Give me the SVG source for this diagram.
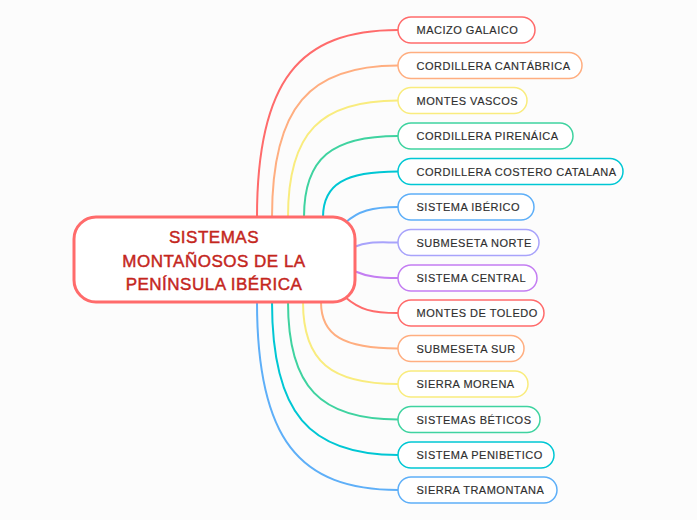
<svg xmlns="http://www.w3.org/2000/svg" width="697" height="520" viewBox="0 0 697 520">
<style>
.bg{fill:#fcfcfc}
.c{fill:none;stroke-width:2;stroke-linecap:round}
.n rect{fill:#ffffff;stroke-width:1.5}
.n text{font-family:"Liberation Sans",Arial,sans-serif;font-size:11px;letter-spacing:0.5px;fill:#2e2e2e;stroke:#2e2e2e;stroke-width:0.15px}
.root rect{fill:#ffffff;stroke:#ff6b6b;stroke-width:3}
.root text{font-family:"Liberation Sans",Arial,sans-serif;font-size:17px;fill:#c4261d;stroke:#c4261d;stroke-width:0.45px;text-anchor:middle;letter-spacing:0.5px}
.red{stroke:#ff6b6b}.ora{stroke:#ffae80}.yel{stroke:#f9ec7e}.grn{stroke:#3fd3a0}.tea{stroke:#00c7d4}.blu{stroke:#5eaff8}.lav{stroke:#a8a3fb}.pur{stroke:#c47ef2}
</style>
<rect class="bg" x="0" y="0" width="697" height="520"/>
<g id="connectors">
<path class="c red" d="M257,217 C257,80.5 299.3,30 398,30"/>
<path class="c ora" d="M272,217 C272,106.4 309.8,65.5 398,65.5"/>
<path class="c yel" d="M288,217 C288,132 321,100.5 398,100.5"/>
<path class="c grn" d="M304,217 C304,157.9 332.2,136 398,136"/>
<path class="c tea" d="M323,217 C323,183.8 345.5,171.5 398,171.5"/>
<path class="c blu" d="M345,223 C358,211 372,207 398,207"/>
<path class="c lav" d="M354,247 C368,241 380,242.5 398,242.5"/>
<path class="c pur" d="M354,271 C368,277 380,278 398,278"/>
<path class="c red" d="M345,297 C360,310 372,313 398,313"/>
<path class="c ora" d="M321,302 C321,335.9 344.1,348.5 398,348.5"/>
<path class="c yel" d="M303,302 C303,361.9 331.5,384 398,384"/>
<path class="c grn" d="M288,302 C288,387.8 321,419.5 398,419.5"/>
<path class="c tea" d="M272,302 C272,413.7 309.8,455 398,455"/>
<path class="c blu" d="M257,302 C257,439.2 299.3,490 398,490"/>
</g>
<g id="root" class="root">
<rect x="74" y="217" width="281" height="85" rx="22"/>
<text x="214" y="243">SISTEMAS</text>
<text x="214" y="266.5">MONTAÑOSOS DE LA</text>
<text x="214" y="290">PENÍNSULA IBÉRICA</text>
</g>
<g id="n1" class="n"><rect class="red" x="398" y="17" width="137" height="26" rx="13"/><text x="416.5" y="34">MACIZO GALAICO</text></g>
<g id="n2" class="n"><rect class="ora" x="398" y="52.5" width="184" height="26" rx="13"/><text x="416.5" y="69.5">CORDILLERA CANTÁBRICA</text></g>
<g id="n3" class="n"><rect class="yel" x="398" y="87.5" width="129" height="26" rx="13"/><text x="416.5" y="104.5">MONTES VASCOS</text></g>
<g id="n4" class="n"><rect class="grn" x="398" y="123" width="175" height="26" rx="13"/><text x="416.5" y="140">CORDILLERA PIRENÁICA</text></g>
<g id="n5" class="n"><rect class="tea" x="398" y="158.5" width="225" height="26" rx="13"/><text x="416.5" y="175.5">CORDILLERA COSTERO CATALANA</text></g>
<g id="n6" class="n"><rect class="blu" x="398" y="194" width="136" height="26" rx="13"/><text x="416.5" y="211">SISTEMA IBÉRICO</text></g>
<g id="n7" class="n"><rect class="lav" x="398" y="229.5" width="141" height="26" rx="13"/><text x="416.5" y="246.5">SUBMESETA NORTE</text></g>
<g id="n8" class="n"><rect class="pur" x="398" y="265" width="139" height="26" rx="13"/><text x="416.5" y="282">SISTEMA CENTRAL</text></g>
<g id="n9" class="n"><rect class="red" x="398" y="300" width="146" height="26" rx="13"/><text x="416.5" y="317">MONTES DE TOLEDO</text></g>
<g id="n10" class="n"><rect class="ora" x="398" y="335.5" width="126" height="26" rx="13"/><text x="416.5" y="352.5">SUBMESETA SUR</text></g>
<g id="n11" class="n"><rect class="yel" x="398" y="371" width="130" height="26" rx="13"/><text x="416.5" y="388">SIERRA MORENA</text></g>
<g id="n12" class="n"><rect class="grn" x="398" y="406.5" width="142" height="26" rx="13"/><text x="416.5" y="423.5">SISTEMAS BÉTICOS</text></g>
<g id="n13" class="n"><rect class="tea" x="398" y="442" width="156" height="26" rx="13"/><text x="416.5" y="459">SISTEMA PENIBETICO</text></g>
<g id="n14" class="n"><rect class="blu" x="398" y="477" width="159" height="26" rx="13"/><text x="416.5" y="494">SIERRA TRAMONTANA</text></g>
</svg>
